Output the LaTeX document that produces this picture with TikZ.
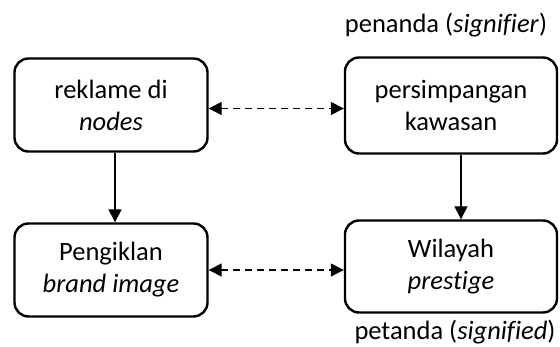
\documentclass[tikz,border=0pt]{standalone}
\usepackage{fontspec}
\setmainfont{Carlito}[Ligatures=NoCommon]
\usetikzlibrary{arrows.meta}
\begin{document}
\begin{tikzpicture}[x=1pt,y=-1pt,
  box/.style={draw, line width=2.4pt, rounded corners=14pt, align=center, inner sep=0pt,
    font=\fontsize{26.5}{32}\selectfont},
  lbl/.style={anchor=base, inner sep=0pt, font=\fontsize{26.5}{32}\selectfont},
  solidarrow/.style={line width=1.4pt, -{Triangle[length=13pt,width=13pt]}},
  dasharrow/.style={line width=1.4pt, dash pattern=on 7pt off 5pt,
    {Triangle[length=13pt,width=13pt]}-{Triangle[length=13pt,width=13pt]}}
]
\useasboundingbox (0,0) rectangle (560,347);
\node[box, minimum width=193pt, minimum height=93pt] (b1) at (111,105) {reklame di\\\textit{nodes}};
\node[box, minimum width=212pt, minimum height=96pt] (b2) at (451,105.5) {persimpangan\\kawasan};
\node[box, minimum width=193pt, minimum height=93pt] (b3) at (111,270) {Pengiklan\\\textit{brand image}};
\node[box, minimum width=212pt, minimum height=92pt] (b4) at (451,266.5) {Wilayah\\\textit{prestige}};
\node[lbl] (sig) at (446,33) {penanda (\textit{signifier})};
\node[lbl] (sigd) at (455,340) {petanda (\textit{signified})};
\draw[dasharrow] ([yshift=-3.5pt]b1.east) -- ([yshift=-3.5pt]b1.east -| b2.west);
\draw[dasharrow] (b3.east) -- (b3.east -| b4.west);
\draw[solidarrow] ([xshift=4pt]b1.south) -- ([xshift=4pt]b1.south |- b3.north);
\draw[solidarrow] ([xshift=10pt]b2.south) -- ([xshift=10pt]b2.south |- b4.north);
\end{tikzpicture}
\end{document}
